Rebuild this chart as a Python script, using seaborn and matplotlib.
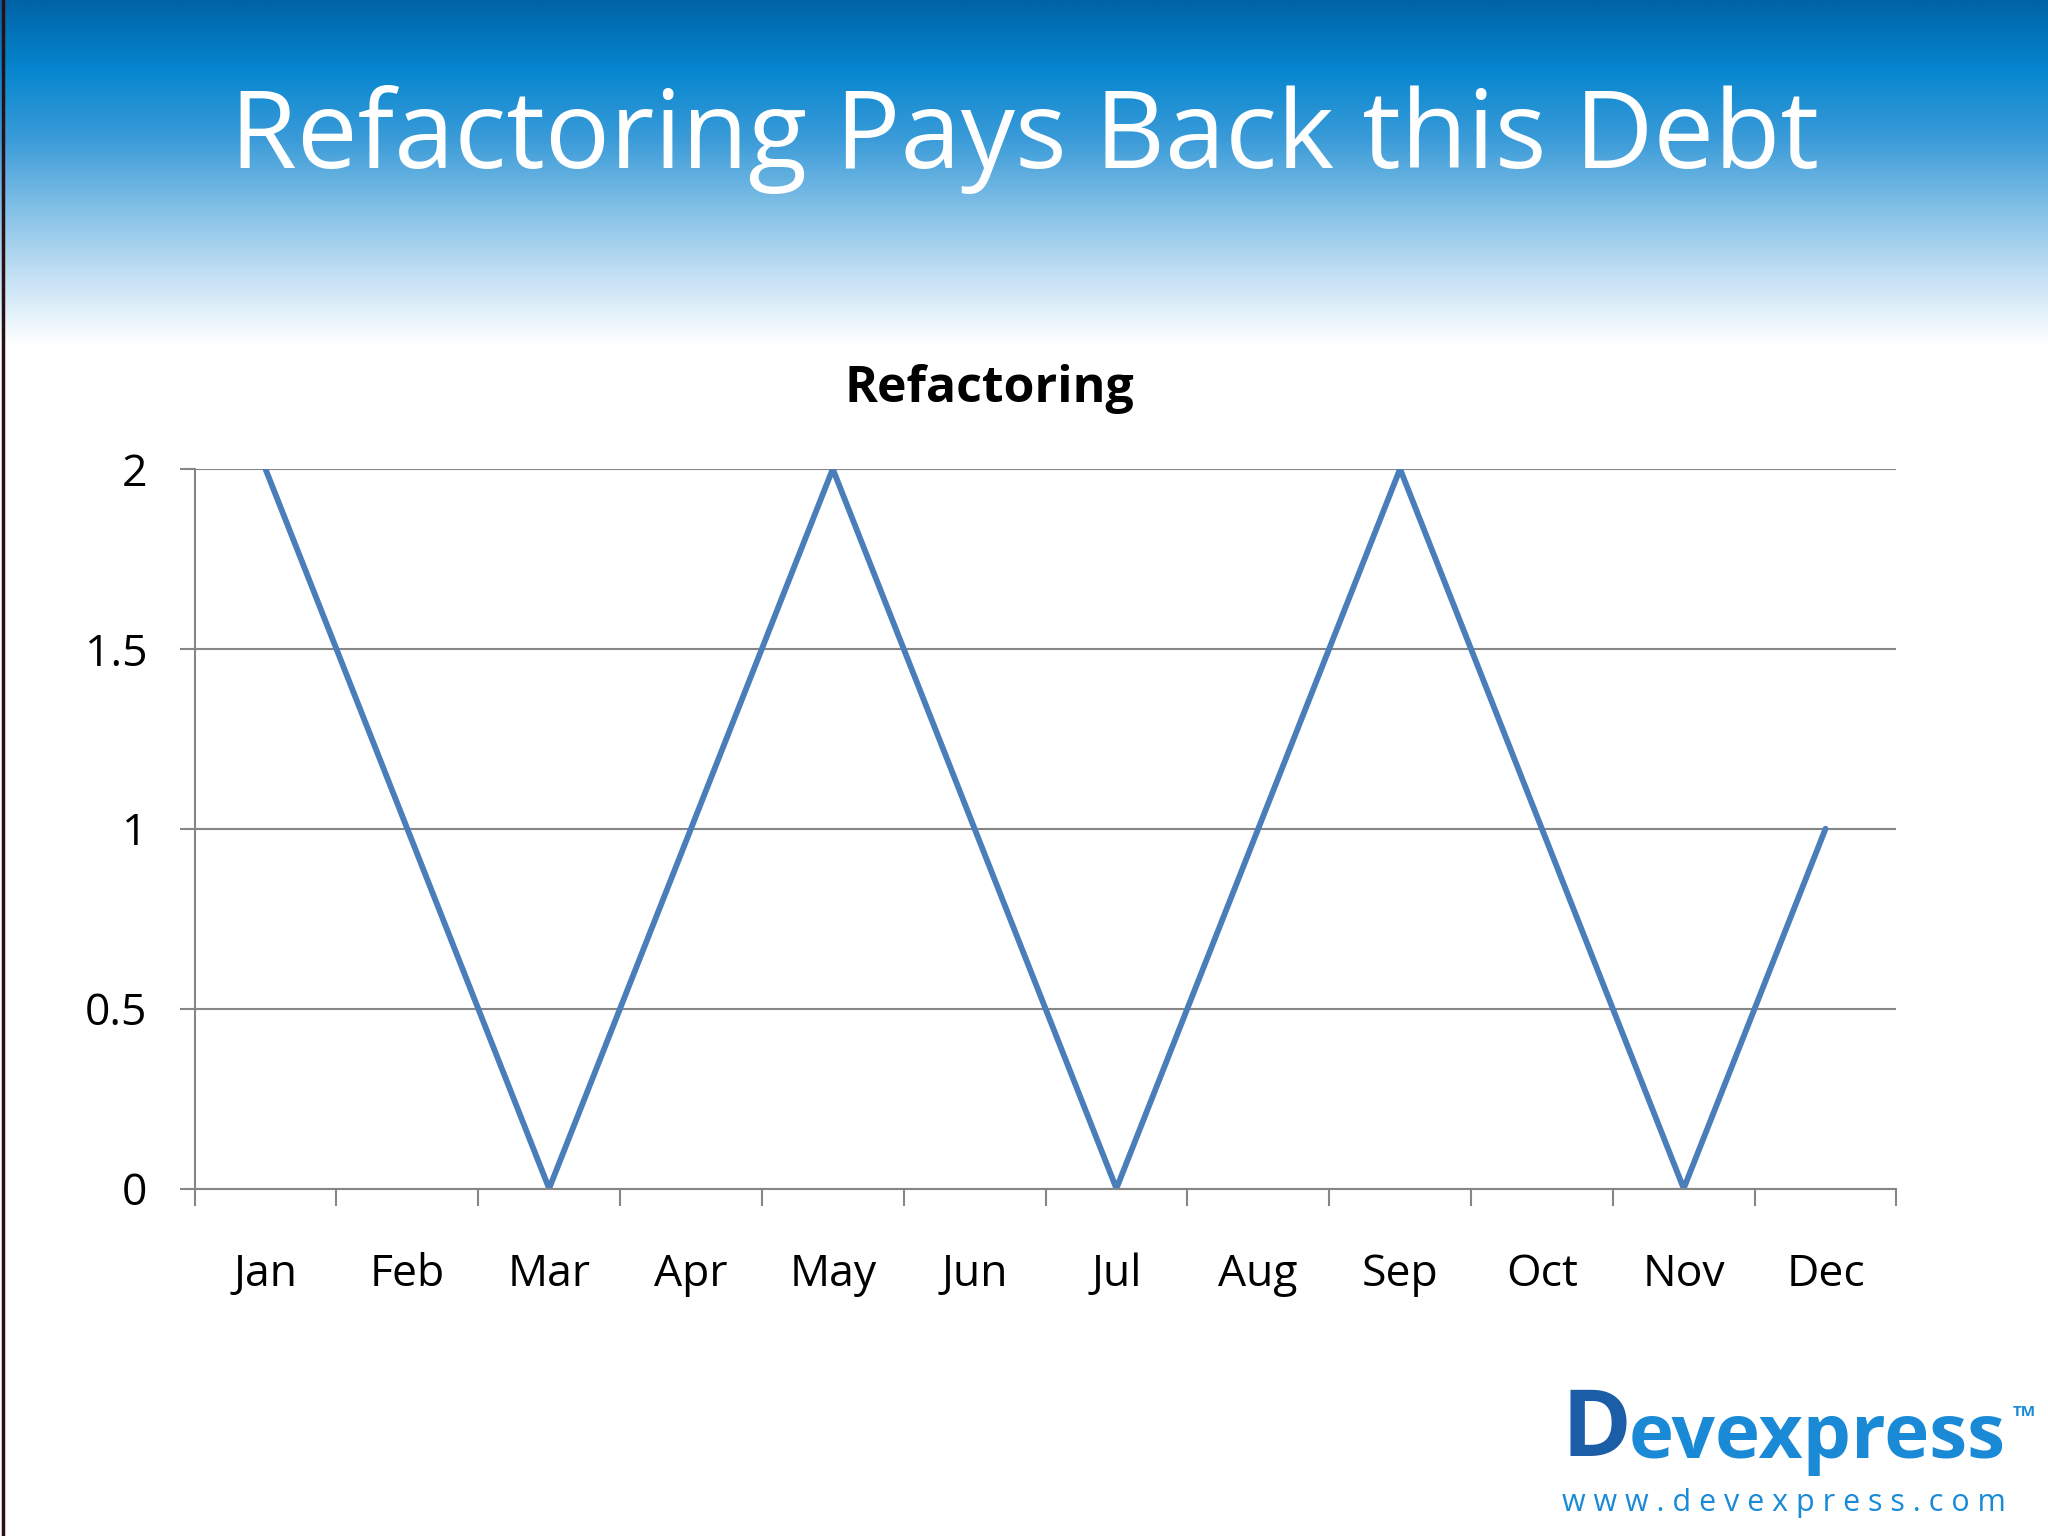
import numpy as np
import pandas as pd
import seaborn as sns
import matplotlib.pyplot as plt
from matplotlib.colors import LinearSegmentedColormap
from matplotlib.lines import Line2D

months = ["Jan", "Feb", "Mar", "Apr", "May", "Jun",
          "Jul", "Aug", "Sep", "Oct", "Nov", "Dec"]
refactoring = [2, 1, 0, 1, 2, 1, 0, 1, 2, 1, 0, 1]
y_ticks = [0, 0.5, 1, 1.5, 2]
y_labels = ["0", "0.5", "1", "1.5", "2"]

sns.set_style("white")
plt.rcParams['font.family'] = ['Open Sans', 'DejaVu Sans']

fig = plt.figure(figsize=(20.48, 15.36), dpi=100)

# header gradient
hdr_h = 345 / 1536
bg = fig.add_axes([0, 1 - hdr_h, 1, hdr_h], zorder=0)
cmap = LinearSegmentedColormap.from_list("hdr", [
    (0.0, "#0063a6"), (0.2, "#0686cf"), (0.4, "#3a9bd8"),
    (0.6, "#80bfe6"), (0.8, "#c3e0f4"), (1.0, "#ffffff")])
grad = np.linspace(0, 1, 256).reshape(-1, 1)
bg.imshow(grad, aspect="auto", cmap=cmap, extent=[0, 1, 1, 0])
bg.set_axis_off()

fig.text(0.5, 1 - 140 / 1536, "Refactoring Pays Back this Debt",
         color="white", fontsize=78, ha="center", va="center")

# left border line
fig.add_artist(Line2D([0.0015, 0.0015], [0, 1], transform=fig.transFigure,
                      color="#2a1014", lw=2.5))

ax = fig.add_axes([0.095, 0.2262, 0.831, 0.4685], zorder=2)
df = pd.DataFrame({"month": months, "value": refactoring})
sns.lineplot(data=df, x="month", y="value", ax=ax, sort=False,
             color="#4a7ebb", lw=4.2, solid_capstyle="round")

ax.set_xlim(-0.5, len(months) - 0.5)
ax.set_ylim(0, 2)
ax.set_yticks(y_ticks)
ax.set_yticklabels(y_labels)
ax.set_xticks(range(len(months)))
ax.set_xticklabels(months)
ax.set_xticks(np.arange(-0.5, len(months), 1), minor=True)
ax.grid(axis="y", color="#868686", lw=1.5)
ax.set_axisbelow(True)
for s in ["top", "right"]:
    ax.spines[s].set_visible(False)
for s in ["left", "bottom"]:
    ax.spines[s].set_color("#868686")
    ax.spines[s].set_linewidth(1.5)
ax.tick_params(axis="y", length=11, width=1.5, color="#868686",
               labelsize=32, pad=23, left=True, labelcolor="black")
ax.tick_params(axis="x", which="major", length=0, labelsize=32, pad=46,
               labelcolor="black")
ax.tick_params(axis="x", which="minor", length=12, width=1.5,
               color="#868686", bottom=True)
ax.set_xlabel("")
ax.set_ylabel("")

fig.text(0.483, 1 - 389 / 1536, "Refactoring", fontsize=36,
         fontweight="bold", color="black", ha="center", va="center")

# logo
fig.text(0.7625, 1 - 1432 / 1536, "D", color="#1b5da6", fontsize=68,
         fontweight="bold", ha="left", va="center")
fig.text(0.795, 1 - 1438 / 1536, "evexpress", color="#1a8ad6", fontsize=55,
         fontweight="bold", ha="left", va="center")
fig.text(0.983, 1 - 1412 / 1536, "TM", color="#1a8ad6", fontsize=11,
         fontweight="bold", ha="left", va="center")
fig.text(0.7625, 1 - 1503 / 1536, "w w w . d e v e x p r e s s . c o m",
         color="#1a8ad6", fontsize=22, ha="left", va="center")

fig.savefig("out.png", dpi=100, facecolor="white")
